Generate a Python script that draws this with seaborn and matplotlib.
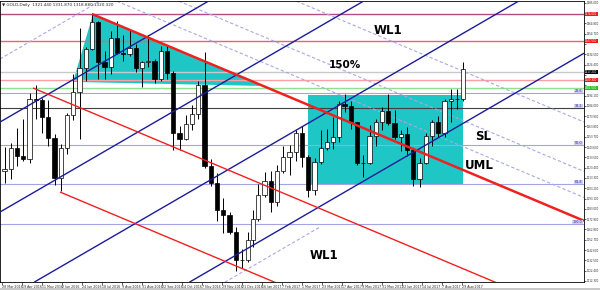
import numpy as np
import pandas as pd
import matplotlib
matplotlib.use("Agg")
import matplotlib.pyplot as plt
import matplotlib.transforms as mtransforms
from matplotlib.patches import Polygon, Rectangle
import seaborn as sns

# ---------------- data ----------------
holidays = ["2016-12-26", "2017-01-02", "2017-04-14"]
week_start = [
    "2016-03-28", "2016-04-04", "2016-04-11", "2016-04-18", "2016-04-25", "2016-05-02", "2016-05-09",
    "2016-05-16", "2016-05-23", "2016-05-30", "2016-06-06", "2016-06-13", "2016-06-20", "2016-06-27",
    "2016-07-04", "2016-07-11", "2016-07-18", "2016-07-25", "2016-08-01", "2016-08-08", "2016-08-15",
    "2016-08-22", "2016-08-29", "2016-09-05", "2016-09-12", "2016-09-19", "2016-09-26", "2016-10-03",
    "2016-10-10", "2016-10-17", "2016-10-24", "2016-10-31", "2016-11-07", "2016-11-14", "2016-11-21",
    "2016-11-28", "2016-12-05", "2016-12-12", "2016-12-19", "2016-12-26", "2017-01-02", "2017-01-09",
    "2017-01-16", "2017-01-23", "2017-01-30", "2017-02-06", "2017-02-13", "2017-02-20", "2017-02-27",
    "2017-03-06", "2017-03-13", "2017-03-20", "2017-03-27", "2017-04-03", "2017-04-10", "2017-04-17",
    "2017-04-24", "2017-05-01", "2017-05-08", "2017-05-15", "2017-05-22", "2017-05-29", "2017-06-05",
    "2017-06-12", "2017-06-19", "2017-06-26", "2017-07-03", "2017-07-10", "2017-07-17", "2017-07-24",
    "2017-07-31", "2017-08-07", "2017-08-14", "2017-08-21", "2017-08-28"]
open_ = [1220, 1222, 1243, 1235, 1232, 1291, 1290, 1273, 1252, 1213, 1243, 1275, 1298, 1321, 1340,
         1366, 1327, 1322, 1350, 1336, 1335, 1341, 1321, 1327, 1328, 1310, 1338, 1316, 1257, 1251,
         1266, 1276, 1304, 1225, 1208, 1182, 1177, 1160, 1133, 1133, 1152, 1173, 1197, 1210, 1190,
         1220, 1234, 1239, 1257, 1234, 1201, 1229, 1243, 1249, 1253, 1286, 1284, 1268, 1228, 1228,
         1254, 1268, 1279, 1267, 1253, 1256, 1241, 1212, 1228, 1254, 1268, 1257, 1289, 1291, 1291]
high = [1244, 1248, 1262, 1271, 1297, 1304, 1292, 1290, 1256, 1247, 1277, 1315, 1360, 1342, 1375,
        1367, 1338, 1357, 1367, 1353, 1358, 1345, 1328, 1353, 1330, 1343, 1344, 1318, 1264, 1275,
        1285, 1308, 1337, 1232, 1218, 1194, 1180, 1165, 1144, 1160, 1182, 1207, 1219, 1220, 1226,
        1245, 1246, 1260, 1264, 1236, 1233, 1260, 1261, 1273, 1289, 1296, 1289, 1268, 1236, 1265,
        1271, 1283, 1296, 1280, 1260, 1263, 1243, 1233, 1257, 1270, 1274, 1291, 1300, 1300, 1327]
low = [1208, 1212, 1225, 1230, 1228, 1271, 1257, 1245, 1206, 1200, 1237, 1270, 1251, 1308, 1339,
       1310, 1310, 1315, 1335, 1328, 1333, 1317, 1302, 1322, 1306, 1308, 1310, 1241, 1241, 1250,
       1260, 1271, 1223, 1205, 1171, 1159, 1158, 1122, 1125, 1131, 1146, 1171, 1195, 1180, 1186,
       1218, 1216, 1230, 1224, 1195, 1197, 1227, 1241, 1242, 1249, 1278, 1261, 1226, 1214, 1227,
       1245, 1260, 1265, 1251, 1240, 1235, 1205, 1204, 1227, 1245, 1253, 1253, 1268, 1281, 1289]
close = [1222, 1243, 1235, 1232, 1291, 1290, 1273, 1252, 1213, 1243, 1275, 1298, 1321, 1340, 1366,
         1327, 1322, 1350, 1336, 1335, 1341, 1321, 1327, 1328, 1310, 1338, 1316, 1257, 1251, 1266,
         1276, 1304, 1225, 1208, 1182, 1177, 1160, 1133, 1133, 1152, 1173, 1197, 1210, 1190, 1220,
         1234, 1239, 1257, 1234, 1201, 1229, 1243, 1249, 1253, 1286, 1284, 1268, 1228, 1228, 1254,
         1268, 1279, 1267, 1253, 1256, 1241, 1212, 1228, 1254, 1268, 1257, 1289, 1291, 1291, 1320]

title_text = "\u25bc GOLD,Daily  1321.440 1331.870 1318.880 1320.320"

# horizontal levels (price) with right-axis tags
level_prices = [1374.0, 1347.5, 1317.2, 1309.3, 1301.5]
level_line_colors = ["#b44a86", "#e8646e", "#c8c8c8", "#ff9ea4", "#8fe08f"]
level_tag_colors = ["#f01818", "#f01818", "#000000", "#f01818", "#22c422"]

# fibonacci-like horizontal levels
fib_prices = [1296.6, 1281.9, 1245.6, 1207.4, 1168.1]
fib_labels = ["23.6", "38.2", "50.0", "61.8", "100.0"]
fib_colors = ["#a4a4e4", "#404040", "#a4a4e4", "#a4a4e4", "#a4a4e4"]

# teal zones
tri_bar = [56.8, 72.8, 210.4]
tri_price = [1307.4, 1374.0, 1303.4]
rect_bar = [244.8, 368.8]
rect_price = [1206.4, 1294.6]

# Andrews pitchfork (red)
pf_bar = [72.0, 24.8, 46.4]          # upper (UML), median, lower
pf_price = [1374.0, 1301.5, 1199.5]
pf_width = [1.8, 1.0, 1.0]
pf_slope = -0.515                     # price per bar
pf_spread = 96.8
warn_mult = [0.236, 0.5, 1.0]         # dashed warning lines above UML

# blue channel
ch_price_at0 = [1269.2, 1181.0, 1092.8, 1004.5]
ch_slope = 0.711
# light dashed ascending segments (start bar, start price, end bar)
asc_seg = [(-1.6, 1329.9, 84.0), (174.4, 1108.3, 255.0)]

annot_text = ["WL1", "150%", "SL", "UML", "WL1"]
annot_bar = [308.8, 274.4, 384.8, 381.6, 257.6]
annot_price = [1358.3, 1324.0, 1254.4, 1225.0, 1136.8]
annot_size = [8.5, 7.5, 8.5, 8.5, 8.5]

# ---------------- figure ----------------
sns.set_theme(style="white")
plt.rcParams['font.family'] = ['DejaVu Sans']

fig = plt.figure(figsize=(6, 2.9), dpi=100)
ax = fig.add_axes([0.0, 8 / 290, 584 / 600, 281 / 290])
X0, X1 = -1.6, 465.6
Y0, Y1 = 1111.27, 1386.76
ax.set_xlim(X0, X1)
ax.set_ylim(Y0, Y1)

cbd = pd.offsets.CustomBusinessDay(holidays=holidays)
days = pd.date_range(start="2016-03-28", periods=480, freq=cbd)

wx = []
for ws in week_start:
    s = pd.Timestamp(ws)
    idx = np.where((days >= s) & (days < s + pd.Timedelta(days=7)))[0]
    wx.append(idx.mean())
wx = np.array(wx)
o = np.array(open_); h = np.array(high); l = np.array(low); c = np.array(close)

# zones
ax.add_patch(Polygon(list(zip(tri_bar, tri_price)), closed=True, fc="#1fc6c6", ec="none", zorder=1))
ax.add_patch(Rectangle((rect_bar[0], rect_price[0]), rect_bar[1] - rect_bar[0],
                       rect_price[1] - rect_price[0], fc="#1fc6c6", ec="none", zorder=1))

# horizontal lines
for p, col in zip(level_prices, level_line_colors):
    ax.axhline(p, color=col, lw=1.0, zorder=2)
for p, col in zip(fib_prices, fib_colors):
    ax.axhline(p, color=col, lw=0.8, zorder=2)

# candles
ax.vlines(wx, l, h, color="black", lw=0.7, zorder=3)
up = c >= o
ax.bar(wx[up], (c - o)[up], bottom=o[up], width=3.4, color="white", edgecolor="black", lw=0.5, zorder=3.5)
ax.bar(wx[~up], (o - c)[~up], bottom=c[~up], width=3.4, color="black", edgecolor="black", lw=0.5, zorder=3.5)

# channel lines (navy)
for b in ch_price_at0:
    ax.axline((0, b), slope=ch_slope, color="#1c1c9a", lw=1.0, zorder=4)
for xs, ys, xe in asc_seg:
    xx = np.array([xs, xe])
    ax.plot(xx, ys + ch_slope * (xx - xs), color="#a8a8e6", lw=0.8, ls=(0, (3, 2)), zorder=2.5)

# pitchfork
for b, p, w in zip(pf_bar, pf_price, pf_width):
    xx = np.array([b, X1])
    ax.plot(xx, p + pf_slope * (xx - b), color="#f02020", lw=w, zorder=4, solid_capstyle="butt")
for m in warn_mult:
    xx = np.array([pf_bar[0], X1])
    ax.plot(xx, pf_price[0] + m * pf_spread + pf_slope * (xx - pf_bar[0]),
            color="#a8a8e6", lw=0.8, ls=(0, (3, 2)), zorder=2.5)

# annotations
for t, b, p, s in zip(annot_text, annot_bar, annot_price, annot_size):
    ax.text(b, p, t, fontsize=s, fontweight="bold", ha="center", va="center", color="black", zorder=6)

ax.text(0.004, 0.992, title_text, transform=ax.transAxes, fontsize=3.0, va="top", ha="left", zorder=6)

# axis styling
ax.yaxis.tick_right()
y_ticks = np.round(1112.3 + 10.1 * np.arange(28), 3)
ax.set_yticks(y_ticks)
tag_arr = np.array(level_prices)
ax.set_yticklabels(["" if np.min(np.abs(tag_arr - v)) < 5.5 else f"{v:.3f}" for v in y_ticks])
xt = list(range(0, 369, 16))
ax.set_xticks(xt)
ax.set_xticklabels([f"{days[i].day} {days[i].strftime('%b %Y')}" for i in xt], ha="left")
ax.tick_params(axis="y", which="both", right=True, length=1.2, width=0.5, pad=0.5, labelsize=1.9)
ax.tick_params(axis="x", which="both", bottom=True, length=2, width=0.5, pad=0.5, labelsize=2.3)
for sp in ax.spines.values():
    sp.set_color("black")
    sp.set_linewidth(0.6)
ax.grid(False)

# right-axis price tags
trans = mtransforms.blended_transform_factory(ax.transAxes, ax.transData)
for p, col in zip(level_prices, level_tag_colors):
    ax.text(1.002, p, f"{p:.3f}", transform=trans, fontsize=1.9, color="white", va="center", ha="left",
            bbox=dict(boxstyle="square,pad=0.15", fc=col, ec="none"), clip_on=False, zorder=10)
for p, lab in zip(fib_prices, fib_labels):
    ax.text(0.997, p, lab, transform=trans, fontsize=2.4, color="#30308a", va="bottom", ha="right",
            bbox=dict(boxstyle="square,pad=0.1", fc="#cfcff2", ec="none"), zorder=6)

fig.patches.append(Rectangle((0, 0), 1, 2 / 290, transform=fig.transFigure, fc="#c8c8c8", ec="none"))
fig.savefig("out.png", dpi=100)
